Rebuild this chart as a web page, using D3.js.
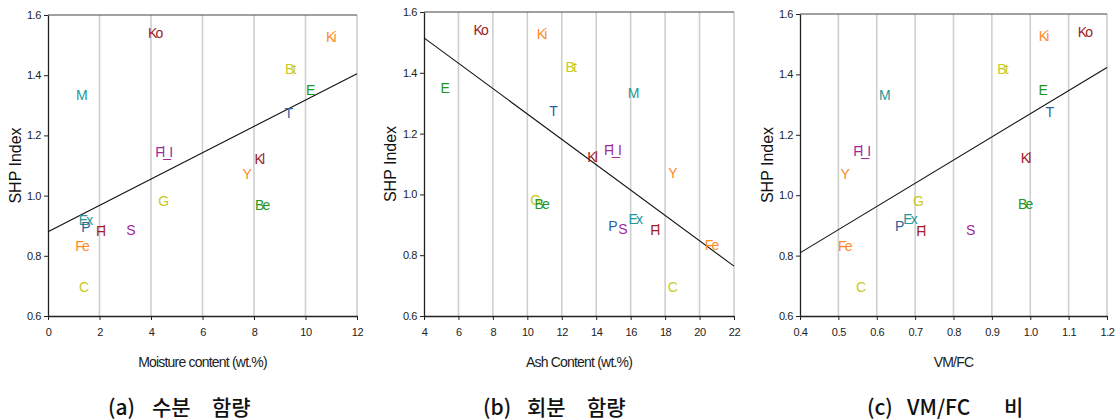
<!DOCTYPE html>
<html>
<head>
<meta charset="utf-8">
<script src="https://cdn.jsdelivr.net/npm/d3@7"></script>
<style>
  html, body { margin: 0; padding: 0; background: #fff; }
  svg { display: block; }
  .tick text { font-family: "Liberation Sans", Arial, sans-serif; font-size: 11px; letter-spacing: -0.4px; fill: #222; }
</style>
</head>
<body>
<svg id="chart" width="1120" height="420"></svg>
<script>
// ---- data ----
const labels   = ["Ko","Ki","Bt","E","T","M","Fl_I","Kl","Y","G","Be","Ex","P","Fl","S","Fe","C"];
const shpIndex = [1.541,1.526,1.419,1.350,1.274,1.333,1.145,1.123,1.071,0.982,0.970,0.920,0.897,0.882,0.886,0.833,0.696];
const moisture = [4.11,10.93,9.35,10.13,9.28,1.24,4.44,8.15,7.66,4.42,8.26,1.40,1.40,1.98,3.15,1.27,1.33];
const ashContent = [7.21,10.74,12.44,5.12,11.41,16.06,14.86,13.68,18.34,10.37,10.75,16.18,14.86,17.31,15.44,20.61,18.34];
const vmfcRatio = [1.139,1.031,0.924,1.029,1.046,0.616,0.557,0.984,0.513,0.704,0.983,0.683,0.655,0.711,0.840,0.513,0.554];
const labelColors = ["#9e1b25","#ff8a26","#c9c920","#1f961f","#2b5f9f","#1f9898","#a0289c","#9e1b25","#ff8a26","#c9c920","#1f961f","#1f9898","#2b5f9f","#9e1b25","#a0289c","#ff8a26","#c9c920"];

const moistureTicks = [0,2,4,6,8,10,12];
const ashTicks = [4,6,8,10,12,14,16,18,20,22];
const vmfcTicks = [0.4,0.5,0.6,0.7,0.8,0.9,1.0,1.1,1.2];
const shpTicks = [0.6,0.8,1.0,1.2,1.4,1.6];

const fitMoisture = [[0,0.880],[12,1.405]];
const fitAsh = [[4,1.515],[22,0.764]];
const fitVmfc = [[0.4,0.809],[1.2,1.423]];

const xTitles = ["Moisture content (wt.%)","Ash Content (wt.%)","VM/FC"];
const captions = [["(a)","수분","함량"],["(b)","회분","함량"],["(c)","VM/FC","비"]];
const yTitle = "SHP Index";

// ---- layout ----
const panels = [
  {xs: moisture, xd: [0,12], ticks: moistureTicks, fmt: d3.format("d"), fit: fitMoisture,
   left: 48, right: 357, top: 15, bottom: 316, ylab: 15, capX: [108,152,212]},
  {xs: ashContent, xd: [4,22], ticks: ashTicks, fmt: d3.format("d"), fit: fitAsh,
   left: 424, right: 734, top: 12, bottom: 316, ylab: 390, capX: [483,527,587]},
  {xs: vmfcRatio, xd: [0.4,1.2], ticks: vmfcTicks, fmt: d3.format(".1f"), fit: fitVmfc,
   left: 800, right: 1107, top: 14, bottom: 316, ylab: 767, capX: [867,907,1004]}
];

const svg = d3.select("#chart");

panels.forEach((p, i) => {
  const x = d3.scaleLinear().domain(p.xd).range([p.left, p.right]);
  const y = d3.scaleLinear().domain([0.6,1.6]).range([p.bottom, p.top]);
  const g = svg.append("g");

  // vertical grid lines
  g.selectAll("line.grid").data(p.ticks.slice(1)).enter().append("line")
    .attr("class","grid")
    .attr("x1", d => x(d)).attr("x2", d => x(d))
    .attr("y1", p.top).attr("y2", p.bottom)
    .attr("stroke", "#cfcfcf").attr("stroke-width", 1.6);

  // top border
  g.append("line")
    .attr("x1", p.left).attr("x2", p.right)
    .attr("y1", y(1.6)).attr("y2", y(1.6))
    .attr("stroke", "#444").attr("stroke-width", 1.2);

  // axes
  const xa = g.append("g").attr("transform", `translate(0,${p.bottom})`)
    .call(d3.axisBottom(x).tickValues(p.ticks).tickFormat(p.fmt).tickSizeInner(4).tickSizeOuter(0).tickPadding(8));
  const ya = g.append("g").attr("transform", `translate(${p.left},0)`)
    .call(d3.axisLeft(y).tickValues(shpTicks).tickFormat(d3.format(".1f")).tickSizeInner(4).tickSizeOuter(0).tickPadding(3));
  [xa, ya].forEach(a => {
    a.select(".domain").attr("stroke", "#222").attr("stroke-width", 1.3);
    a.selectAll(".tick line").attr("stroke", "#222");
  });

  // regression line
  g.append("line")
    .attr("x1", x(p.fit[0][0])).attr("y1", y(p.fit[0][1]))
    .attr("x2", x(p.fit[1][0])).attr("y2", y(p.fit[1][1]))
    .attr("stroke", "#111").attr("stroke-width", 1.1);

  // data labels
  g.selectAll("text.pt").data(labels).enter().append("text")
    .attr("class","pt")
    .attr("x", (d, k) => x(p.xs[k]) + 1)
    .attr("y", (d, k) => y(shpIndex[k]))
    .attr("text-anchor", "middle")
    .attr("dominant-baseline", "central")
    .attr("font-family", "'Liberation Sans', Arial, sans-serif")
    .attr("font-size", 14)
    .attr("letter-spacing", "-1.8px")
    .attr("fill", (d, k) => labelColors[k])
    .text(d => d);

  // x title
  g.append("text")
    .attr("x", (p.left + p.right) / 2).attr("y", 367)
    .attr("text-anchor", "middle")
    .attr("font-family", "'Liberation Sans', Arial, sans-serif")
    .attr("font-size", 14).attr("letter-spacing", "-0.8px")
    .attr("fill", "#222")
    .text(xTitles[i]);

  // y title
  g.append("text")
    .attr("transform", `translate(${p.ylab},${(p.top + p.bottom) / 2}) rotate(-90)`)
    .attr("text-anchor", "middle")
    .attr("dominant-baseline", "central")
    .attr("font-family", "'Liberation Sans', Arial, sans-serif")
    .attr("font-size", 16)
    .attr("fill", "#111")
    .text(yTitle);

  // caption
  g.selectAll("text.cap").data(captions[i]).enter().append("text")
    .attr("class","cap")
    .attr("x", (d, k) => p.capX[k]).attr("y", 415)
    .attr("font-family", "'Noto Sans CJK KR', sans-serif")
    .attr("font-size", 21).attr("font-weight", 500)
    .attr("fill", "#111")
    .text(d => d);
});
</script>
</body>
</html>
